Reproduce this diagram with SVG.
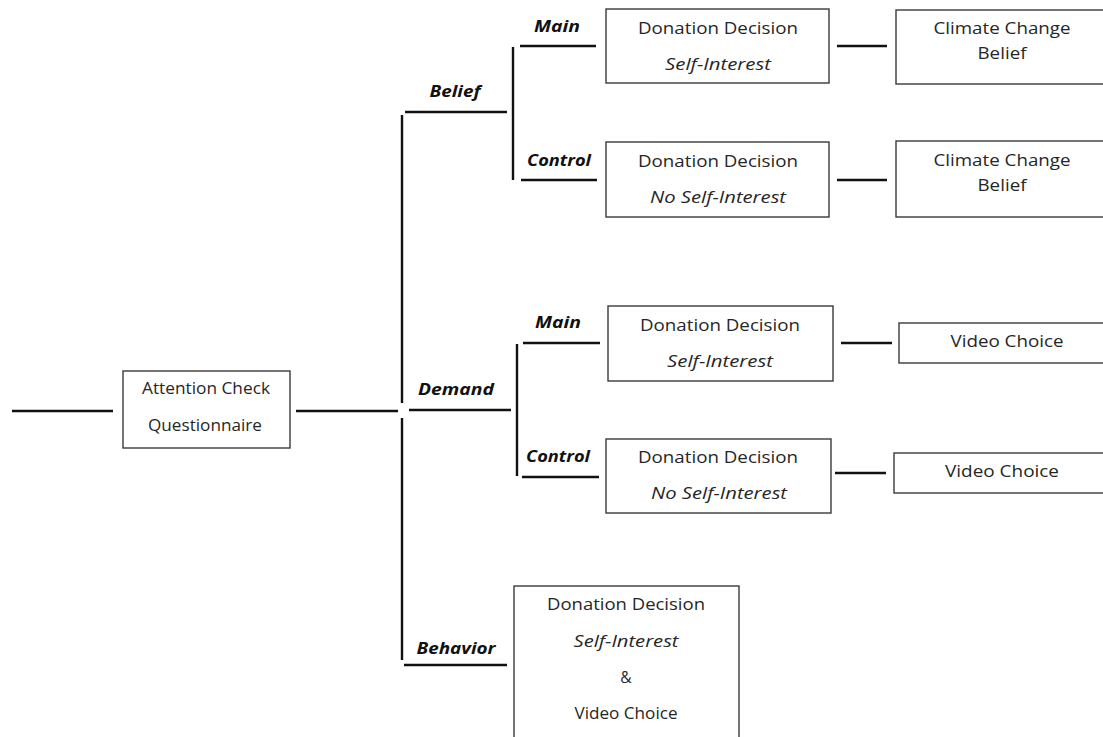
<svg xmlns="http://www.w3.org/2000/svg" width="1103" height="737" viewBox="0 0 1103 737">
<style>
.bx{fill:#fff;stroke:#3a3a3a;stroke-width:1.4}
.ln{stroke:#111;stroke-width:2.4;fill:none}
.t{font-family:"Open Sans","Noto Sans",sans-serif;font-size:15.5px;fill:#262626;text-anchor:middle}
.i{font-style:italic}
.lb{font-family:"Open Sans","Noto Sans",sans-serif;font-size:16px;font-weight:bold;font-style:italic;fill:#111;text-anchor:middle}
</style>
<rect width="1103" height="737" fill="#fff"/>
<g id="connectors">
<line class="ln" x1="12" y1="411" x2="113" y2="411"/>
<line class="ln" x1="296" y1="411" x2="398" y2="411"/>
<line class="ln" x1="402" y1="115" x2="402" y2="403"/>
<line class="ln" x1="402" y1="418" x2="402" y2="660"/>
<line class="ln" x1="405" y1="112" x2="507" y2="112"/>
<line class="ln" x1="409" y1="410" x2="511" y2="410"/>
<line class="ln" x1="404" y1="665" x2="507" y2="665"/>
<line class="ln" x1="513" y1="47" x2="513" y2="180"/>
<line class="ln" x1="520" y1="46" x2="596" y2="46"/>
<line class="ln" x1="521" y1="180" x2="597" y2="180"/>
<line class="ln" x1="517" y1="344" x2="517" y2="476"/>
<line class="ln" x1="523" y1="343" x2="600" y2="343"/>
<line class="ln" x1="522" y1="477" x2="599" y2="477"/>
<line class="ln" x1="837" y1="46" x2="887" y2="46"/>
<line class="ln" x1="837" y1="180" x2="887" y2="180"/>
<line class="ln" x1="841" y1="343" x2="892" y2="343"/>
<line class="ln" x1="835" y1="473" x2="886" y2="473"/>
</g>
<g id="labels">
<text class="lb" x="455" y="97" textLength="51" lengthAdjust="spacingAndGlyphs">Belief</text>
<text class="lb" x="557" y="32" textLength="46" lengthAdjust="spacingAndGlyphs">Main</text>
<text class="lb" x="559" y="166" textLength="64" lengthAdjust="spacingAndGlyphs">Control</text>
<text class="lb" x="456" y="395" textLength="76" lengthAdjust="spacingAndGlyphs">Demand</text>
<text class="lb" x="558" y="328" textLength="46" lengthAdjust="spacingAndGlyphs">Main</text>
<text class="lb" x="558" y="462" textLength="64" lengthAdjust="spacingAndGlyphs">Control</text>
<text class="lb" x="456" y="654" textLength="79" lengthAdjust="spacingAndGlyphs">Behavior</text>
</g>
<g id="attention">
<rect class="bx" x="123" y="371" width="167" height="77"/>
<text class="t" x="206" y="394" textLength="128" lengthAdjust="spacingAndGlyphs">Attention Check</text>
<text class="t" x="205" y="431" textLength="114" lengthAdjust="spacingAndGlyphs">Questionnaire</text>
</g>
<g id="belief-main">
<rect class="bx" x="606" y="9" width="223" height="74"/>
<text class="t" x="718" y="34" textLength="160" lengthAdjust="spacingAndGlyphs">Donation Decision</text>
<text class="t i" x="718" y="70" textLength="106" lengthAdjust="spacingAndGlyphs">Self-Interest</text>
</g>
<g id="belief-control">
<rect class="bx" x="606" y="142" width="223" height="75"/>
<text class="t" x="718" y="167" textLength="160" lengthAdjust="spacingAndGlyphs">Donation Decision</text>
<text class="t i" x="718" y="203" textLength="136" lengthAdjust="spacingAndGlyphs">No Self-Interest</text>
</g>
<g id="cc-1">
<rect class="bx" x="896" y="10" width="220" height="74"/>
<text class="t" x="1002" y="34" textLength="137" lengthAdjust="spacingAndGlyphs">Climate Change</text>
<text class="t" x="1002" y="59" textLength="49" lengthAdjust="spacingAndGlyphs">Belief</text>
</g>
<g id="cc-2">
<rect class="bx" x="896" y="141" width="220" height="76"/>
<text class="t" x="1002" y="166" textLength="137" lengthAdjust="spacingAndGlyphs">Climate Change</text>
<text class="t" x="1002" y="191" textLength="49" lengthAdjust="spacingAndGlyphs">Belief</text>
</g>
<g id="demand-main">
<rect class="bx" x="608" y="306" width="225" height="75"/>
<text class="t" x="720" y="331" textLength="160" lengthAdjust="spacingAndGlyphs">Donation Decision</text>
<text class="t i" x="720" y="367" textLength="106" lengthAdjust="spacingAndGlyphs">Self-Interest</text>
</g>
<g id="demand-control">
<rect class="bx" x="606" y="439" width="225" height="74"/>
<text class="t" x="718" y="463" textLength="160" lengthAdjust="spacingAndGlyphs">Donation Decision</text>
<text class="t i" x="719" y="499" textLength="136" lengthAdjust="spacingAndGlyphs">No Self-Interest</text>
</g>
<g id="vc-1">
<rect class="bx" x="899" y="323" width="220" height="40"/>
<text class="t" x="1007" y="347" textLength="113" lengthAdjust="spacingAndGlyphs">Video Choice</text>
</g>
<g id="vc-2">
<rect class="bx" x="894" y="453" width="220" height="40"/>
<text class="t" x="1002" y="477" textLength="114" lengthAdjust="spacingAndGlyphs">Video Choice</text>
</g>
<g id="behavior">
<rect class="bx" x="514" y="586" width="225" height="170"/>
<text class="t" x="626" y="610" textLength="158" lengthAdjust="spacingAndGlyphs">Donation Decision</text>
<text class="t i" x="626" y="647" textLength="105" lengthAdjust="spacingAndGlyphs">Self-Interest</text>
<text class="t" x="626" y="683">&amp;</text>
<text class="t" x="626" y="719" textLength="103" lengthAdjust="spacingAndGlyphs">Video Choice</text>
</g>
</svg>
